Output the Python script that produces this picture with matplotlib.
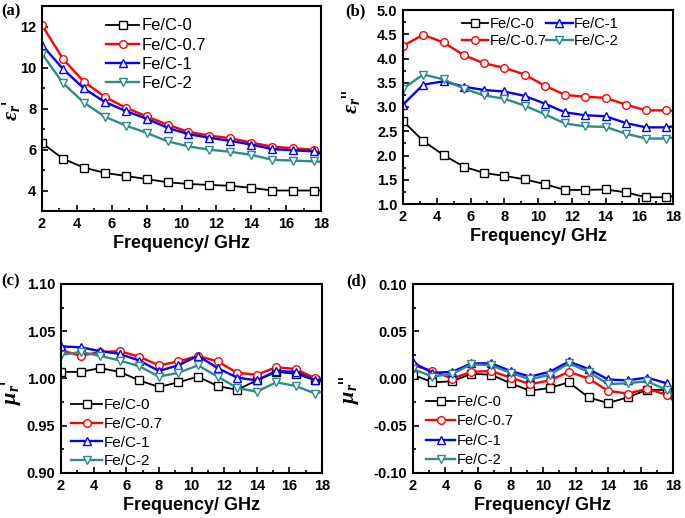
import matplotlib
matplotlib.use("Agg")
import matplotlib.pyplot as plt
from matplotlib.ticker import MultipleLocator, FormatStrFormatter

# ---------------- data ----------------
freq = [2.0, 3.2, 4.4, 5.6, 6.8, 8.0, 9.2, 10.4, 11.6, 12.8, 14.0, 15.2, 16.4, 17.6, 18.0]
labels = ["Fe/C-0", "Fe/C-0.7", "Fe/C-1", "Fe/C-2"]

# (a) eps'
eps1_0 = [6.32, 5.55, 5.12, 4.86, 4.71, 4.56, 4.40, 4.32, 4.27, 4.23, 4.13, 4.00, 4.00, 4.00, 4.00]
eps1_07 = [12.07, 10.42, 9.31, 8.57, 8.04, 7.62, 7.21, 6.86, 6.68, 6.55, 6.34, 6.14, 6.06, 5.99, 5.83]
eps1_1 = [11.10, 9.93, 8.98, 8.32, 7.88, 7.50, 7.06, 6.75, 6.57, 6.42, 6.24, 6.02, 5.96, 5.91, 5.80]
eps1_2 = [10.67, 9.24, 8.29, 7.60, 7.17, 6.81, 6.40, 6.15, 5.99, 5.89, 5.74, 5.50, 5.46, 5.42, 5.40]

# (b) eps''
eps2_0 = [2.71, 2.30, 2.01, 1.77, 1.64, 1.58, 1.51, 1.41, 1.29, 1.29, 1.30, 1.24, 1.14, 1.14, 1.16]
eps2_07 = [4.26, 4.49, 4.33, 4.07, 3.90, 3.81, 3.67, 3.44, 3.25, 3.21, 3.19, 3.05, 2.93, 2.93, 2.92]
eps2_1 = [3.05, 3.46, 3.53, 3.42, 3.35, 3.32, 3.23, 3.07, 2.89, 2.83, 2.81, 2.67, 2.58, 2.58, 2.60]
eps2_2 = [3.38, 3.67, 3.57, 3.38, 3.24, 3.17, 3.03, 2.85, 2.66, 2.60, 2.59, 2.45, 2.35, 2.35, 2.37]

# (c) mu'
mu1_0 = [1.007, 1.007, 1.011, 1.007, 0.998, 0.991, 0.996, 1.002, 0.992, 0.988, 0.998, 1.007, 1.005, 0.998, 0.997]
mu1_07 = [1.030, 1.024, 1.028, 1.029, 1.023, 1.014, 1.018, 1.024, 1.018, 1.006, 1.004, 1.012, 1.010, 1.000, 1.000]
mu1_1 = [1.034, 1.033, 1.029, 1.026, 1.019, 1.008, 1.014, 1.024, 1.011, 1.001, 0.998, 1.008, 1.007, 0.998, 0.999]
mu1_2 = [1.025, 1.028, 1.024, 1.019, 1.013, 1.002, 1.006, 1.014, 1.002, 0.990, 0.986, 0.996, 0.992, 0.984, 0.986]

# (d) mu''
mu2_0 = [0.004, -0.004, -0.003, 0.005, 0.004, -0.005, -0.013, -0.010, -0.004, -0.020, -0.026, -0.020, -0.012, -0.012, -0.022]
mu2_07 = [0.014, 0.008, 0.000, 0.007, 0.008, 0.001, -0.006, -0.002, 0.007, 0.000, -0.013, -0.016, -0.011, -0.017, -0.023]
mu2_1 = [0.017, 0.006, 0.007, 0.016, 0.016, 0.008, 0.002, 0.007, 0.018, 0.010, -0.001, -0.002, 0.001, -0.005, -0.013]
mu2_2 = [0.010, 0.002, 0.005, 0.015, 0.014, 0.006, -0.001, 0.004, 0.016, 0.007, -0.006, -0.005, -0.003, -0.012, -0.016]

# ---------------- style ----------------
plt.rcParams['font.family'] = ['Liberation Sans', 'DejaVu Sans']
plt.rcParams['mathtext.fontset'] = 'custom'
plt.rcParams['mathtext.it'] = 'Liberation Serif:italic:bold'
plt.rcParams['mathtext.rm'] = 'Liberation Serif:bold'

colors = ['#000000', '#FF0000', '#0000FF', '#2E8B8B']
markers = ['s', 'o', '^', 'v']
lws = [1.3, 1.7, 1.7, 1.7]

W, H = 685, 518
fig = plt.figure(figsize=(W / 100, H / 100), dpi=100)


def add_ax(l, t, r, b):
    return fig.add_axes([l / W, 1 - b / H, (r - l) / W, (b - t) / H])


def style(ax, ylim, ymaj, ymin, yfmt):
    ax.set_xlim(2, 18)
    ax.set_ylim(*ylim)
    ax.xaxis.set_major_locator(MultipleLocator(2))
    ax.xaxis.set_minor_locator(MultipleLocator(1))
    ax.yaxis.set_major_locator(MultipleLocator(ymaj))
    ax.yaxis.set_minor_locator(MultipleLocator(ymin))
    ax.yaxis.set_major_formatter(FormatStrFormatter(yfmt))
    ax.tick_params(which='both', direction='in', top=False, right=False,
                   labelsize=10.5, width=1.2, pad=4)
    ax.tick_params(which='major', length=4)
    ax.tick_params(which='minor', length=2)
    for lab in ax.get_xticklabels() + ax.get_yticklabels():
        lab.set_fontweight('bold')
    for sp in ax.spines.values():
        sp.set_linewidth(1.5)
    ax.set_xlabel('Frequency/ GHz', fontsize=13, fontweight='bold', labelpad=3)


def draw(ax, series):
    for ys, c, m, lw, lab in zip(series, colors, markers, lws, labels):
        ax.plot(freq, ys, color=c, lw=lw, marker=m, markersize=5.5,
                markerfacecolor='white', markeredgecolor=c, markeredgewidth=1.0,
                markevery=list(range(len(freq) - 1)), label=lab)


def ylab(ax, txt, x_px, y_px, l, t, r, b):
    ax.set_ylabel(txt, fontsize=16)
    ax.yaxis.set_label_coords((x_px - l) / (r - l), (b - y_px) / (b - t))


# (a)
A = (42, 6, 321, 211)
axa = add_ax(*A)
draw(axa, [eps1_0, eps1_07, eps1_1, eps1_2])
style(axa, (3, 13), 2, 1, '%d')
ylab(axa, r"$\varepsilon_r$'", 22, 111, *A)
axa.legend(loc='upper left', bbox_to_anchor=(0.20, 0.98), frameon=False, fontsize=12,
           handlelength=2.0, handletextpad=0.1, labelspacing=0.25, borderpad=0)

# (b)
B = (403, 10, 673, 204)
axb = add_ax(*B)
draw(axb, [eps2_0, eps2_07, eps2_1, eps2_2])
style(axb, (1.0, 5.0), 0.5, 0.25, '%.1f')
ylab(axb, r'$\varepsilon_r$"', 362, 102, *B)
axb.legend(loc='upper left', bbox_to_anchor=(0.19, 1.0), frameon=False, fontsize=10.5, ncol=2,
           handlelength=1.8, handletextpad=0.1, labelspacing=0.2, columnspacing=0.0, borderpad=0)

# (c)
C = (61, 284, 322, 473)
axc = add_ax(*C)
draw(axc, [mu1_0, mu1_07, mu1_1, mu1_2])
style(axc, (0.90, 1.10), 0.05, 0.025, '%.2f')
ylab(axc, r"$\mu_r$'", 23, 393, *C)
axc.legend(loc='lower left', bbox_to_anchor=(0.01, -0.015), frameon=False, fontsize=11,
           handlelength=2.0, handletextpad=0.1, labelspacing=0.3, borderpad=0)

# (d)
D = (413, 284, 673, 473)
axd = add_ax(*D)
draw(axd, [mu2_0, mu2_07, mu2_1, mu2_2])
style(axd, (-0.10, 0.10), 0.05, 0.025, '%.2f')
ylab(axd, r'$\mu_r$"', 361, 390, *D)
axd.legend(loc='lower left', bbox_to_anchor=(0.022, -0.008), frameon=False, fontsize=10.5,
           handlelength=2.0, handletextpad=0.1, labelspacing=0.37, borderpad=0)

# panel labels
for txt, x, y in [('(a)', 1, 3), ('(b)', 345, 3), ('(c)', 1, 273), ('(d)', 346, 273)]:
    fig.text(x / W, 1 - y / H, txt, fontsize=12, fontweight='bold',
             family='Liberation Serif', ha='left', va='top')

fig.savefig('out.png', dpi=100)
